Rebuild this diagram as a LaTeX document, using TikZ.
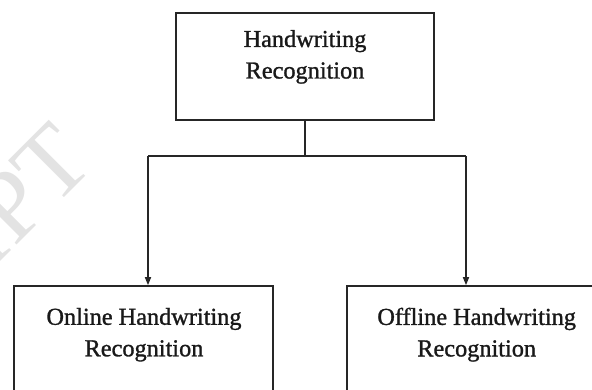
\documentclass[tikz,border=0pt]{standalone}
\usepackage{fontspec}
\setmainfont{Liberation Serif}
\newfontfamily\boxfont[FakeBold=1.2]{Liberation Serif}
\usetikzlibrary{arrows.meta}
\begin{document}
\begin{tikzpicture}[x=1pt,y=-1pt,
  box/.style={draw=black!85, line width=1.6pt, inner sep=0pt},
  label/.style={align=center, inner sep=0pt, font=\boxfont\fontsize{24.3}{31.5}\selectfont, text=black!90},
  conn/.style={draw=black!85, line width=1.5pt},
  arr/.style={conn, -{Triangle[length=8pt,width=6pt]}}]
\useasboundingbox (0,0) rectangle (592,389);
\begin{scope}
\clip (0,0) rectangle (592,389);
% watermark
\node[rotate=45, text=gray!22, font=\fontsize{100}{100}\selectfont, anchor=base east, inner sep=0pt] (wm) at (97,165) {RIPT};
% boxes
\node[box, minimum width=258pt, minimum height=107.3pt] (top) at (305,66.35) {};
\node[box, minimum width=259pt, minimum height=140pt] (left) at (143.5,356) {};
\node[box, minimum width=260pt, minimum height=140pt] (right) at (477,356) {};
\end{scope}
% texts
\node[label] (ttop) at (305,56.9) {Handwriting\\Recognition};
\node[label] (tleft) at (144,334.7) {Online Handwriting\\Recognition};
\node[label] (tright) at (476.7,334.7) {Offline Handwriting\\Recognition};
% connectors
\coordinate (mid) at (305,156);
\coordinate (la) at (148,156);
\coordinate (ra) at (466,156);
\draw[conn] (top.south) -- (mid);
\draw[conn] (la) -- (ra);
\draw[arr] (la) -- (la |- left.north);
\draw[arr] (ra) -- (ra |- right.north);
\end{tikzpicture}
\end{document}
